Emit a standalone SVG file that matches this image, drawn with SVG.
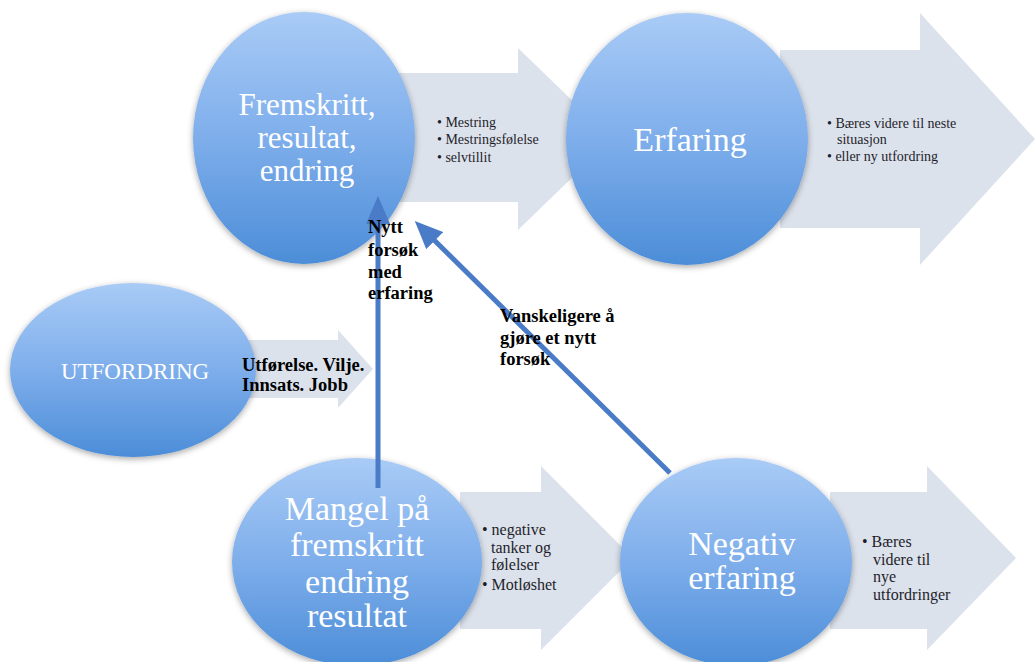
<svg xmlns="http://www.w3.org/2000/svg" width="1035" height="662" viewBox="0 0 1035 662">
<defs>
<linearGradient id="cg" x1="0" y1="0" x2="0" y2="1">
<stop offset="0" stop-color="#a9cbf6"/>
<stop offset="0.5" stop-color="#7eaeeb"/>
<stop offset="1" stop-color="#4c8dd8"/>
</linearGradient>
<filter id="sh" x="-20%" y="-20%" width="140%" height="140%">
<feDropShadow dx="0" dy="2" stdDeviation="3" flood-color="#000" flood-opacity="0.35"/>
</filter>
<marker id="ah" viewBox="0 0 28 24" refX="8" refY="12" markerWidth="28" markerHeight="24" markerUnits="userSpaceOnUse" orient="auto">
<path d="M0,0 L28,12 L0,24 z" fill="#4a7bc6"/>
</marker>
<style>
.blk{fill:#dce2ec}
.circ{fill:url(#cg);filter:url(#sh)}
.big{font-family:"Liberation Serif","Times New Roman",serif;font-size:34px;fill:#ffffff;text-anchor:middle}
.sm{font-family:"Liberation Serif","Times New Roman",serif;font-size:14px;fill:#1e1e2a}
.smb{font-family:"Liberation Serif","Times New Roman",serif;font-size:16px;fill:#1e1e2a}
.lbl{font-family:"Liberation Serif","Times New Roman",serif;font-size:18.5px;font-weight:bold;fill:#000}
.conn{stroke:#4a7bc6;stroke-width:5;fill:none}
</style>
</defs>
<rect width="1035" height="662" fill="#ffffff"/>

<g id="block-arrows">
<polygon class="blk" points="390,73 518,73 518,48 612,139 518,230 518,202 390,202"/>
<polygon class="blk" points="780,50 920,50 920,13 1035,139 920,265 920,228 780,228"/>
<polygon class="blk" points="200,340 338,340 338,330 373,369 338,408 338,398 200,398"/>
<polygon class="blk" points="460,492 541,492 541,466 633,558 541,650 541,629 460,629"/>
<polygon class="blk" points="830,492 927,492 927,466 1016,558 927,650 927,629 830,629"/>
</g>

<g id="node-fremskritt">
<ellipse class="circ" cx="304" cy="138" rx="111" ry="126"/>
<text class="big" x="307" y="115" style="font-size:31px">Fremskritt,</text>
<text class="big" x="307" y="148" style="font-size:31px">resultat,</text>
<text class="big" x="307" y="181" style="font-size:31px">endring</text>
</g>

<g id="node-erfaring">
<ellipse class="circ" cx="687" cy="139" rx="121" ry="126"/>
<text class="big" x="690" y="151">Erfaring</text>
</g>

<g id="node-utfordring">
<ellipse class="circ" cx="133" cy="370" rx="123" ry="87"/>
<text class="big" x="135" y="379" style="font-size:23px">UTFORDRING</text>
</g>

<g id="node-mangel">
<ellipse class="circ" cx="357" cy="562" rx="125" ry="104"/>
<text class="big" x="357" y="520">Mangel på</text>
<text class="big" x="357" y="556">fremskritt</text>
<text class="big" x="357" y="593">endring</text>
<text class="big" x="357" y="627">resultat</text>
</g>

<g id="node-negativ">
<ellipse class="circ" cx="736" cy="562" rx="116" ry="104"/>
<text class="big" x="742" y="555">Negativ</text>
<text class="big" x="742" y="589">erfaring</text>
</g>

<g id="text-mestring">
<text class="sm" x="437" y="127">• Mestring</text>
<text class="sm" x="437" y="144">• Mestringsfølelse</text>
<text class="sm" x="437" y="162">• selvtillit</text>
</g>

<g id="text-baeres-top">
<text class="sm" x="827" y="128">• Bæres videre til neste</text>
<text class="sm" x="837" y="144">situasjon</text>
<text class="sm" x="827" y="161">• eller ny utfordring</text>
</g>

<g id="text-negative">
<text class="smb" x="482" y="535">• negative</text>
<text class="smb" x="491" y="553">tanker og</text>
<text class="smb" x="491" y="570">følelser</text>
<text class="smb" x="482" y="590">• Motløshet</text>
</g>

<g id="text-baeres-bottom">
<text class="smb" x="862" y="547">• Bæres</text>
<text class="smb" x="873" y="565">videre til</text>
<text class="smb" x="873" y="582">nye</text>
<text class="smb" x="873" y="600">utfordringer</text>
</g>

<g id="text-utforelse">
<text class="lbl" x="242" y="371">Utførelse. Vilje.</text>
<text class="lbl" x="242" y="391">Innsats. Jobb</text>
</g>

<g id="connectors">
<line class="conn" x1="378" y1="488" x2="378" y2="216" marker-end="url(#ah)"/>
<line class="conn" x1="670" y1="473" x2="429" y2="235" marker-end="url(#ah)"/>
</g>

<g id="connector-labels">
<text class="lbl" x="368" y="233">Nytt</text>
<text class="lbl" x="368" y="256">forsøk</text>
<text class="lbl" x="368" y="278">med</text>
<text class="lbl" x="368" y="299">erfaring</text>
<text class="lbl" x="500" y="322">Vanskeligere å</text>
<text class="lbl" x="500" y="344">gjøre et nytt</text>
<text class="lbl" x="500" y="365">forsøk</text>
</g>
</svg>
